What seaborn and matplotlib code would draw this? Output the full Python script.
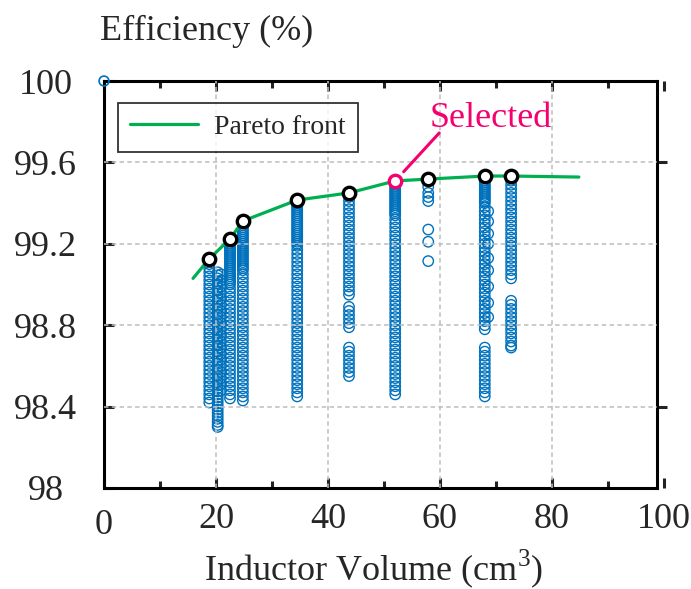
import numpy as np
import pandas as pd
import matplotlib
matplotlib.use("Agg")
import matplotlib.pyplot as plt
import matplotlib.transforms as mtransforms
import seaborn as sns

# ---------------- data ----------------
vol_a = 18.8
eff_a = [99.10, 99.08, 99.06, 99.04, 99.02, 99.00, 98.98, 98.96, 98.94, 98.92, 98.90, 98.88,
         98.86, 98.84, 98.82, 98.80, 98.78, 98.76, 98.74, 98.72, 98.70, 98.68, 98.66, 98.64,
         98.62, 98.60, 98.58, 98.56, 98.54, 98.52, 98.50, 98.48, 98.46, 98.44, 98.42]
vol_b = 20.3
eff_b = [99.06, 99.045, 99.03, 99.015, 99.00, 98.985, 98.97, 98.955, 98.94, 98.925, 98.91,
         98.895, 98.88, 98.865, 98.85, 98.835, 98.82, 98.805, 98.79, 98.775, 98.76, 98.745,
         98.73, 98.715, 98.70, 98.685, 98.67, 98.655, 98.64, 98.625, 98.61, 98.595, 98.58,
         98.565, 98.55, 98.535, 98.52, 98.505, 98.49, 98.475, 98.46, 98.445, 98.43, 98.415,
         98.40, 98.385, 98.37, 98.355, 98.34, 98.325, 98.31, 98.30]
vol_b2 = 20.9
eff_b2 = [99.05, 99.02, 98.99, 98.96, 98.93, 98.90, 98.87, 98.84, 98.81, 98.78, 98.75, 98.72,
          98.69, 98.66, 98.63, 98.60, 98.57, 98.54, 98.51, 98.48]
vol_c = 22.5
eff_c = [99.20, 99.19, 99.18, 99.17, 99.16, 99.15, 99.14, 99.13, 99.12, 99.11, 99.10, 99.09,
         99.08, 99.07, 99.06, 99.05, 99.04, 99.03, 99.02, 99.01, 99.00, 98.98, 98.96, 98.94,
         98.92, 98.90, 98.88, 98.86, 98.84, 98.82, 98.80, 98.78, 98.76, 98.74, 98.72, 98.70,
         98.68, 98.66, 98.64, 98.62, 98.60, 98.58, 98.56, 98.54, 98.52, 98.50, 98.48, 98.46, 98.44]
vol_d = 24.8
eff_d = [99.29, 99.28, 99.27, 99.26, 99.25, 99.24, 99.23, 99.22, 99.21, 99.20, 99.19, 99.18,
         99.17, 99.16, 99.15, 99.14, 99.13, 99.12, 99.11, 99.10, 99.09, 99.08, 99.07, 99.05,
         99.03, 99.01, 98.99, 98.97, 98.95, 98.93, 98.91, 98.89, 98.87, 98.85, 98.83, 98.81,
         98.79, 98.77, 98.75, 98.73, 98.71, 98.69, 98.67, 98.65, 98.63, 98.61, 98.59, 98.57,
         98.55, 98.53, 98.51, 98.49, 98.47, 98.45, 98.43]
vol_e = 34.5
eff_e = [99.40, 99.39, 99.38, 99.37, 99.36, 99.35, 99.34, 99.33, 99.32, 99.31, 99.30, 99.29,
         99.28, 99.27, 99.26, 99.25, 99.24, 99.23, 99.22, 99.21, 99.20, 99.19, 99.17, 99.15,
         99.13, 99.11, 99.09, 99.07, 99.05, 99.03, 99.01, 98.99, 98.97, 98.95, 98.93, 98.91,
         98.89, 98.87, 98.85, 98.83, 98.81, 98.79, 98.77, 98.75, 98.73, 98.71, 98.69, 98.67,
         98.65, 98.63, 98.61, 98.59, 98.57, 98.55, 98.53, 98.51, 98.49, 98.47, 98.45]
vol_f = 43.75
eff_f = [99.43, 99.41, 99.39, 99.37, 99.35, 99.33, 99.31, 99.29, 99.27, 99.25, 99.23, 99.21,
         99.19, 99.17, 99.15, 99.13, 99.11, 99.09, 99.07, 99.05, 99.03, 99.01, 98.99, 98.97,
         98.95, 98.89, 98.87, 98.85, 98.83, 98.81, 98.79, 98.69, 98.67, 98.65, 98.63, 98.61,
         98.59, 98.57, 98.55]
vol_g = 52.0
eff_g = [99.49, 99.48, 99.47, 99.46, 99.45, 99.44, 99.43, 99.42, 99.41, 99.40, 99.39, 99.38,
         99.37, 99.36, 99.35, 99.34, 99.32, 99.30, 99.28, 99.26, 99.24, 99.22, 99.20, 99.18,
         99.16, 99.14, 99.12, 99.10, 99.08, 99.06, 99.04, 99.02, 99.00, 98.98, 98.96, 98.94,
         98.92, 98.90, 98.88, 98.86, 98.84, 98.82, 98.80, 98.78, 98.76, 98.74, 98.72, 98.70,
         98.68, 98.66, 98.64, 98.62, 98.60, 98.58, 98.56, 98.54, 98.52, 98.50, 98.48, 98.46]
vol_h = 57.9
eff_h = [99.48, 99.45, 99.43, 99.41, 99.27, 99.21, 99.115]
vol_i = 68.0
eff_i = [99.51, 99.50, 99.49, 99.48, 99.47, 99.46, 99.45, 99.44, 99.43, 99.42, 99.41, 99.40,
         99.38, 99.36, 99.34, 99.32, 99.30, 99.28, 99.26, 99.24, 99.22, 99.20, 99.18, 99.16,
         99.14, 99.12, 99.10, 99.08, 99.06, 99.04, 99.02, 99.00, 98.98, 98.96, 98.94, 98.92,
         98.90, 98.88, 98.86, 98.84, 98.82, 98.80, 98.78, 98.69, 98.67, 98.65, 98.63, 98.61,
         98.59, 98.57, 98.55, 98.53, 98.51, 98.49, 98.47, 98.45]
vol_i2 = 68.6
eff_i2 = [99.36, 99.31, 99.25, 99.20, 99.13, 99.07, 98.99, 98.91, 98.84]
vol_j = 72.7
eff_j = [99.51, 99.49, 99.47, 99.45, 99.43, 99.41, 99.39, 99.37, 99.35, 99.33, 99.31, 99.29,
         99.27, 99.25, 99.23, 99.21, 99.19, 99.17, 99.15, 99.13, 99.11, 99.09, 99.07, 99.05,
         99.03, 98.92, 98.90, 98.88, 98.86, 98.84, 98.82, 98.80, 98.78, 98.76, 98.74, 98.72,
         98.70, 98.69]
stray_vol = [0.0]
stray_eff = [100.0]

pareto_vol = [15.9, 18.75, 22.5, 24.8, 34.5, 43.75, 52.0, 57.9, 68.0, 72.7, 84.8]
pareto_eff = [99.03, 99.125, 99.224, 99.312, 99.415, 99.45, 99.509, 99.518, 99.533, 99.533, 99.528]
front_vol = [18.75, 22.5, 24.8, 34.5, 43.75, 57.9, 68.0, 72.7]
front_eff = [99.125, 99.224, 99.312, 99.415, 99.45, 99.518, 99.533, 99.533]
selected_vol = [52.0]
selected_eff = [99.509]

x_ticks = [0, 20, 40, 60, 80, 100]
x_ticklabels = ["0", "20", "40", "60", "80", "100"]
y_ticks = [98.0, 98.4, 98.8, 99.2, 99.6, 100.0]
y_ticklabels = ["98", "98.4", "98.8", "99.2", "99.6", "100"]

# ---------------- build table ----------------
groups = [(vol_a, eff_a), (vol_b, eff_b), (vol_b2, eff_b2), (vol_c, eff_c), (vol_d, eff_d),
          (vol_e, eff_e), (vol_f, eff_f), (vol_g, eff_g), (vol_h, eff_h), (vol_i, eff_i),
          (vol_i2, eff_i2), (vol_j, eff_j)]
rows = []
for v, effs in groups:
    for e in effs:
        rows.append((v, e))
designs = pd.DataFrame(rows, columns=["volume", "efficiency"])
pareto = pd.DataFrame({"volume": pareto_vol, "efficiency": pareto_eff})
front = pd.DataFrame({"volume": front_vol, "efficiency": front_eff})
sel = pd.DataFrame({"volume": selected_vol, "efficiency": selected_eff})

# ---------------- style ----------------
sns.set_theme(style="white")
plt.rcParams["font.family"] = ["Liberation Serif", "DejaVu Serif"]
plt.rcParams["mathtext.fontset"] = "custom"
plt.rcParams["mathtext.rm"] = "Liberation Serif"
plt.rcParams["lines.scale_dashes"] = False

BLUE = "#0072BD"
GREEN = "#00B050"
PINK = "#F5006E"
GRID = "#BDBDBD"

W, H = 691, 589
fig = plt.figure(figsize=(W / 100, H / 100), dpi=100)
ax = fig.add_axes([104 / W, 1 - 488 / H, 560 / W, 407 / H])

ax.set_xlim(0, 100)
ax.set_ylim(98, 100)
right_edge = 98.8

# grid (drawn above the blue cloud, as in the reference)
gx = [20, 40, 60, 80]
gy = [98.4, 98.8, 99.2, 99.6]
ax.vlines(gx, 98, 100, colors=GRID, linestyles=(0, (3.2, 2.4)), linewidth=1.1, zorder=3)
ax.hlines(gy, 0, right_edge, colors=GRID, linestyles=(0, (3.2, 2.4)), linewidth=1.1, zorder=3)

sns.scatterplot(data=designs, x="volume", y="efficiency", ax=ax, marker="o", s=56,
                facecolor="none", edgecolor=BLUE, linewidth=1.0, zorder=2, legend=False)
ax.scatter(stray_vol, stray_eff, s=50, facecolor="none", edgecolor=BLUE, linewidth=1.2,
           clip_on=False, zorder=6)

sns.lineplot(data=pareto, x="volume", y="efficiency", ax=ax, color=GREEN, linewidth=2.3,
             sort=False, estimator=None, label="Pareto front", zorder=4)
sns.scatterplot(data=front, x="volume", y="efficiency", ax=ax, marker="o", s=80,
                facecolor="white", edgecolor="black", linewidth=2.4, zorder=5, legend=False)
sns.scatterplot(data=sel, x="volume", y="efficiency", ax=ax, marker="o", s=80,
                facecolor="white", edgecolor=PINK, linewidth=2.4, zorder=5, legend=False)

ax.annotate("", xy=(selected_vol[0], selected_eff[0]), xytext=(31.7, 34.5),
            textcoords="offset points",
            arrowprops=dict(arrowstyle="-", color=PINK, lw=2.2, shrinkA=0, shrinkB=9))
ax.annotate("Selected", xy=(selected_vol[0], selected_eff[0]), xytext=(25, 39),
            textcoords="offset points", ha="left", va="baseline", color=PINK, fontsize=26)

# axes cosmetics
ax.set_xticks(x_ticks)
ax.set_xticklabels(x_ticklabels)
ax.set_xticks([10, 30, 50, 70, 90], minor=True)
ax.set_yticks(y_ticks)
ax.set_yticklabels(y_ticklabels)
ax.set_xlabel("")
ax.set_ylabel("")
for s in ["left", "bottom", "top", "right"]:
    ax.spines[s].set_visible(True)
    ax.spines[s].set_color("black")
    ax.spines[s].set_linewidth(2.2)
ax.spines["right"].set_position(("data", right_edge))
ax.spines["top"].set_bounds(0, right_edge)
ax.spines["bottom"].set_bounds(0, right_edge)

ax.tick_params(axis="x", which="major", direction="in", length=7, width=2.2, color="#222222",
               top=True, bottom=True, labelsize=26, pad=11)
ax.tick_params(axis="x", which="minor", direction="in", length=5, width=2.2, color="#222222",
               top=True, bottom=True)
ax.tick_params(axis="y", which="major", direction="in", length=7, width=2.2, color="#222222",
               left=True, right=False, labelsize=26, pad=42)

sec = ax.secondary_yaxis(right_edge / 100)
sec.set_yticks([98.4, 99.6])
sec.tick_params(direction="out", length=7, width=2.2, color="#222222", labelright=False,
                labelleft=False)
for s in sec.spines.values():
    s.set_visible(False)

leg = ax.legend(loc="upper left", bbox_to_anchor=(0.025, 0.946), borderaxespad=0,
                fontsize=20, frameon=True, fancybox=False, edgecolor="black",
                handlelength=2.45, handletextpad=0.6, borderpad=0.42)
leg.get_frame().set_linewidth(1.3)
leg.set_zorder(7)

fig.text(100 / W, 1 - 40 / H, "Efficiency (%)", ha="left", va="baseline", fontsize=26)
fig.text(374 / W, 1 - 580 / H, "Inductor Volume (cm$^{3}$)", ha="center", va="baseline",
         fontsize=26)

# final label tweaks (after all tick resets)
for lab in ax.get_yticklabels():
    lab.set_horizontalalignment("center")
xlabs = ax.get_xticklabels()
xlabs[0].set_transform(xlabs[0].get_transform() +
                       mtransforms.ScaledTranslation(0, -6 / 100, fig.dpi_scale_trans))

fig.savefig("out.png", dpi=100)
